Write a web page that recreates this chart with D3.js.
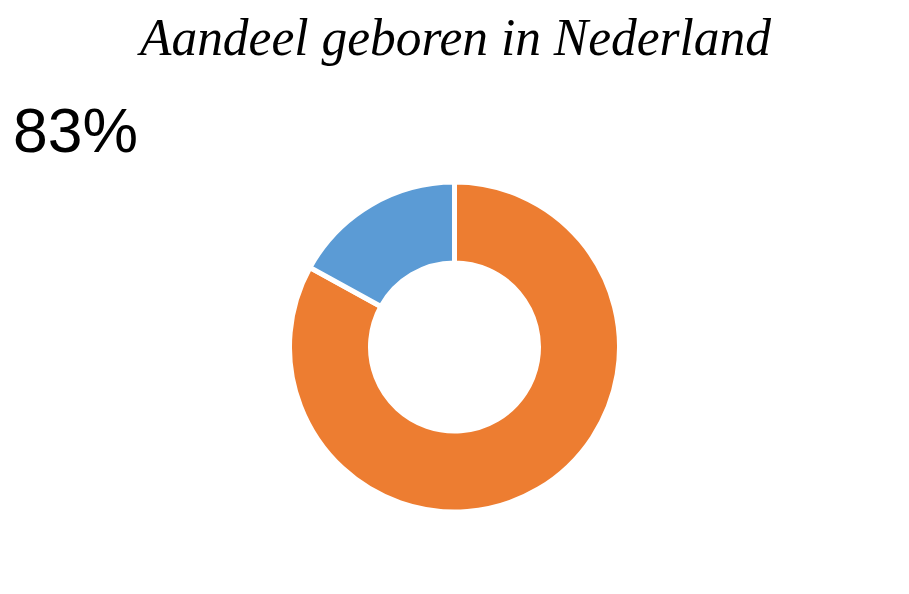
<!DOCTYPE html>
<html><head><meta charset="utf-8">
<script src="https://cdn.jsdelivr.net/npm/d3@7"></script>
<style>body{margin:0;background:#fff}svg{display:block}</style>
</head><body>
<svg id="chart" width="909" height="594"></svg>
<script>
const titleText = "Aandeel geboren in Nederland";
const categories = ["Geboren in Nederland", "Niet geboren in Nederland"];
const values = [83, 17];
const colors = ["#ED7D31", "#5B9BD5"];
const bigLabel = "83%";

const svg = d3.select("#chart");
const cx = 454.5, cy = 347, outerR = 165, innerR = 84;

const color = d3.scaleOrdinal().domain(categories).range(colors);
const pie = d3.pie().sort(null).value(d => d.value);
const arc = d3.arc().innerRadius(innerR).outerRadius(outerR);
const data = categories.map((c, i) => ({cat: c, value: values[i]}));

svg.append("g").attr("transform", `translate(${cx},${cy})`)
  .selectAll("path").data(pie(data)).join("path")
  .attr("d", arc)
  .attr("fill", d => color(d.data.cat))
  .attr("stroke", "#fff").attr("stroke-width", 5).attr("stroke-linejoin", "miter");

svg.append("text").attr("x", 140).attr("y", 55)
  .attr("font-family", "'Liberation Serif', serif").attr("font-style", "italic")
  .attr("font-size", 53).attr("fill", "#000")
  .attr("textLength", 631).attr("lengthAdjust", "spacingAndGlyphs")
  .text(titleText);

svg.append("text").attr("x", 13).attr("y", 152)
  .attr("font-family", "'Liberation Sans', Arial, sans-serif")
  .attr("font-size", 63).attr("fill", "#000")
  .attr("textLength", 125).attr("lengthAdjust", "spacingAndGlyphs")
  .text(bigLabel);
</script>
</body></html>
